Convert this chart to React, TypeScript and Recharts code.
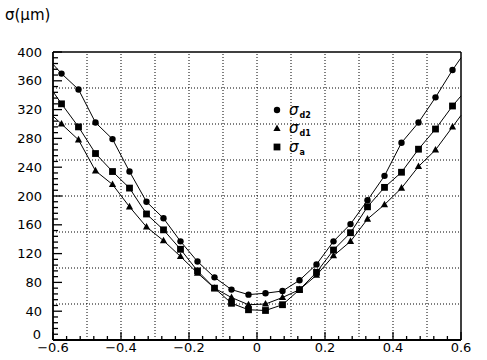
import React from 'react';
import { LineChart, Line, XAxis, YAxis, ReferenceLine, Legend } from 'recharts';

// x positions of the measurements (edges are where the lines meet the frame)
const xs = [-0.6, -0.575, -0.525, -0.475, -0.425, -0.375, -0.325, -0.275, -0.225, -0.175, -0.125, -0.075, -0.025,
  0.025, 0.075, 0.125, 0.175, 0.225, 0.275, 0.325, 0.375, 0.425, 0.475, 0.525, 0.575, 0.6];

const sigmaD2 = [383, 370, 348, 302, 279, 234, 192, 169, 137, 109, 87, 70, 63,
  65, 68, 83, 105, 137, 161, 194, 228, 274, 302, 337, 375, 392];
const sigmaD1 = [311, 300, 278, 235, 216, 185, 157, 138, 116, 93, 72, 59, 49,
  50, 59, 70, 90, 117, 137, 168, 188, 211, 241, 264, 296, 312];
const sigmaA = [345, 328, 296, 259, 234, 211, 175, 153, 126, 96, 72, 51, 42,
  41, 49, 70, 94, 125, 149, 185, 212, 233, 265, 293, 325, 339];

const xLabels = [-0.6, -0.4, -0.2, 0, 0.2, 0.4, 0.6];
const yLabels = [0, 40, 80, 120, 160, 200, 240, 280, 320, 360, 400];
const gridX = [-0.5, -0.4, -0.3, -0.2, -0.1, 0, 0.1, 0.2, 0.3, 0.4, 0.5];
const gridY = [50, 100, 150, 200, 250, 300, 350];

const series = [
  { key: 'd2', sub: 'd2', shape: 'circle', values: sigmaD2 },
  { key: 'd1', sub: 'd1', shape: 'triangle', values: sigmaD1 },
  { key: 'a', sub: 'a', shape: 'square', values: sigmaA },
];

const rows = xs.map((x, i) => {
  const r: any = { x };
  series.forEach((s) => (r[s.key] = s.values[i]));
  return r;
});

// 5 minor steps between labelled ticks
const withMinor = (labels: number[]) => {
  const out: number[] = [];
  labels.forEach((v, i) => {
    out.push(v);
    if (i < labels.length - 1) {
      const step = (labels[i + 1] - v) / 5;
      for (let k = 1; k < 5; k++) out.push(+(v + step * k).toFixed(4));
    }
  });
  return out;
};
const xTicks = withMinor(xLabels);
const yTicks = withMinor(yLabels);

const isLabel = (v: number, labels: number[]) => labels.some((l) => Math.abs(l - v) < 1e-6);
const fmtX = (v: number) => (Math.abs(v) < 1e-9 ? '0' : (v < 0 ? '\u2212' : '') + Math.abs(v).toFixed(1));

const Marker = ({ shape, cx, cy }: { shape: string; cx: number; cy: number }) => {
  if (shape === 'circle') return <circle cx={cx} cy={cy} r={3.2} fill="#000" />;
  if (shape === 'square') return <rect x={cx - 3.4} y={cy - 3.4} width={6.8} height={6.8} fill="#000" />;
  return <polygon points={`${cx},${cy - 4} ${cx - 3.6},${cy + 2.6} ${cx + 3.6},${cy + 2.6}`} fill="#000" />;
};

const makeDot = (shape: string) => (props: any) => {
  const { cx, cy, index } = props;
  if (index === 0 || index === xs.length - 1) return <g key={`e${index}`} />;
  return <Marker key={`m${index}`} shape={shape} cx={cx} cy={cy} />;
};

const XTick = (props: any) => {
  const { x, y, payload } = props;
  const v = payload.value;
  const major = isLabel(v, xLabels);
  const axisY = y - 3;
  return (
    <g>
      <line x1={x} x2={x} y1={axisY} y2={axisY - (major ? 8 : 4)} stroke="#000" strokeWidth={1.3} />
      {major && (
        <text x={x} y={y} dy="0.7em" textAnchor="middle" fontSize={13} fill="#000">
          {fmtX(v)}
        </text>
      )}
    </g>
  );
};

const YTick = (props: any) => {
  const { x, y, payload } = props;
  const v = payload.value;
  const major = isLabel(v, yLabels);
  const axisX = x + 11;
  return (
    <g>
      <line x1={axisX} x2={axisX + (major ? 9 : 5)} y1={y} y2={y} stroke="#000" strokeWidth={1.3} />
      {major && (
        <text x={v === 0 ? x - 1 : x} y={v === 0 ? y - 6 : y} dy="0.36em" textAnchor="end" fontSize={13} fill="#000">
          {v}
        </text>
      )}
    </g>
  );
};

const LegendBox = () => (
  <svg width={70} height={60}>
    {series.map((s, i) => {
      const cy = 10 + i * 18.5;
      return (
        <g key={s.key}>
          <Marker shape={s.shape} cx={9} cy={cy} />
          <text x={21} y={cy} dy="0.3em" fontSize={15} fontStyle="italic" fill="#000">
            σ
            <tspan fontSize={8} fontWeight="bold" fontStyle="normal" dx={1} dy={3}>
              {s.sub}
            </tspan>
          </text>
        </g>
      );
    })}
  </svg>
);

export default function App() {
  return (
    <div style={{ position: 'absolute', left: 0, top: 0, width: 487, height: 360, fontFamily: '"DejaVu Sans", sans-serif', background: '#fff' }}>
      <div style={{ position: 'absolute', left: 5, top: 6, fontSize: 15, color: '#000' }}>σ(μm)</div>
      <LineChart width={487} height={360} data={rows} margin={{ top: 52, right: 26, left: 0, bottom: 0 }}>
        {gridX.map((g) => (
          <ReferenceLine key={`gx${g}`} x={g} stroke="#000" strokeWidth={1} strokeDasharray="1 2" />
        ))}
        {gridY.map((g) => (
          <ReferenceLine key={`gy${g}`} y={g} stroke="#000" strokeWidth={1} strokeDasharray="1 2" />
        ))}
        <ReferenceLine y={400} stroke="#000" strokeWidth={1.5} />
        <ReferenceLine x={0.6} stroke="#000" strokeWidth={1.5} />
        <XAxis
          dataKey="x"
          type="number"
          domain={[-0.6, 0.6]}
          ticks={xTicks}
          interval={0}
          tickLine={false}
          tickSize={0}
          tickMargin={3}
          height={20}
          tick={<XTick />}
          axisLine={{ stroke: '#000', strokeWidth: 1.8 }}
        />
        <YAxis
          type="number"
          domain={[0, 400]}
          ticks={yTicks}
          interval={0}
          tickLine={false}
          tickSize={0}
          tickMargin={11}
          width={53}
          tick={<YTick />}
          axisLine={{ stroke: '#000', strokeWidth: 1.8 }}
        />
        {series.map((s) => (
          <Line
            key={s.key}
            type="linear"
            dataKey={s.key}
            name={`σ${s.sub}`}
            stroke="#000"
            strokeWidth={1}
            dot={makeDot(s.shape)}
            activeDot={false}
            isAnimationActive={false}
          />
        ))}
        <Legend
          layout="vertical"
          align="center"
          verticalAlign="middle"
          content={<LegendBox />}
          wrapperStyle={{ left: 268, top: 100, width: 70, height: 60 }}
        />
      </LineChart>
    </div>
  );
}
